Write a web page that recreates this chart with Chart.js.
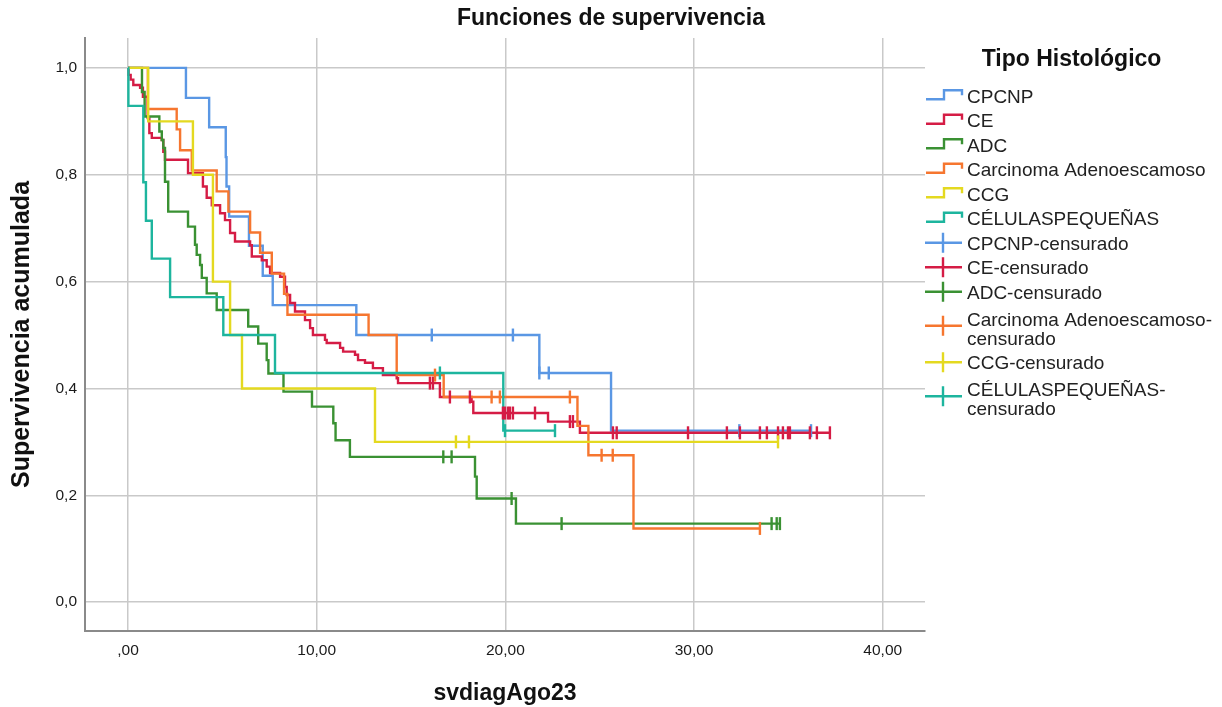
<!DOCTYPE html>
<html><head><meta charset="utf-8">
<script src="https://cdn.jsdelivr.net/npm/chart.js@4.4.0/dist/chart.umd.min.js"></script>
<style>html,body{margin:0;padding:0;background:#fff}</style>
</head><body>
<canvas id="c" width="1222" height="707"></canvas>
<script>
// ---------- DATA ----------
const groupNames = ['CPCNP', 'CE', 'ADC', 'Carcinoma Adenoescamoso', 'CCG', 'CÉLULASPEQUEÑAS'];
const censorNames = ['CPCNP-censurado', 'CE-censurado', 'ADC-censurado', ['Carcinoma Adenoescamoso-', 'censurado'], 'CCG-censurado', ['CÉLULASPEQUEÑAS-', 'censurado']];

const cpcnpTimes = [0, 3.07, 4.3, 5.18, 5.22, 5.36, 6.41, 7.14, 7.67, 12.1, 21.8, 25.6];
const cpcnpSurv  = [1, 0.944, 0.889, 0.833, 0.778, 0.722, 0.667, 0.611, 0.556, 0.5, 0.429, 0.321];
const cpcnpEnd = 36.2;
const cpcnpCensored = [16.1, 20.4, 21.8, 22.3, 32.4, 36.2];

const ceTimes = [0, 0.03, 0.14, 0.28, 0.64, 0.79, 1.04, 1.13, 1.26, 1.79, 1.87, 1.96, 3.18, 3.97, 4.17, 4.44, 4.88, 5.14, 5.41, 5.67, 6.47, 6.56, 7.09, 7.35, 7.53, 8.06, 8.32, 8.41, 8.59, 8.85, 9.38, 9.65, 9.80, 10.44, 10.53, 11.24, 11.40, 12.03, 12.19, 12.56, 12.98, 13.51, 14.24, 14.31, 16.53, 18.21, 18.30, 22.26, 23.95];
const ceSurv  = [1, 0.987, 0.978, 0.968, 0.963, 0.946, 0.906, 0.878, 0.869, 0.865, 0.843, 0.828, 0.803, 0.778, 0.757, 0.743, 0.728, 0.715, 0.691, 0.675, 0.668, 0.647, 0.640, 0.628, 0.616, 0.609, 0.590, 0.575, 0.560, 0.544, 0.528, 0.513, 0.500, 0.491, 0.485, 0.476, 0.469, 0.463, 0.453, 0.448, 0.438, 0.425, 0.419, 0.410, 0.384, 0.375, 0.354, 0.338, 0.317];
const ceEnd = 37.2;
const ceCensored = [16.0, 16.16, 17.06, 18.12, 19.87, 19.98, 20.14, 20.24, 20.40, 21.57, 23.42, 23.58, 25.7, 25.9, 29.68, 31.74, 32.43, 33.49, 33.86, 34.45, 34.71, 34.98, 35.08, 36.14, 36.51, 37.2];

const adcTimes = [0, 0.74, 0.88, 1.66, 1.79, 1.87, 1.96, 2.13, 3.18, 3.55, 3.64, 3.82, 3.91, 4.17, 4.70, 6.37, 6.90, 7.35, 7.44, 8.24, 9.75, 10.88, 11.0, 11.76, 18.39, 18.48, 20.56];
const adcSurv  = [1, 0.955, 0.909, 0.881, 0.865, 0.850, 0.787, 0.731, 0.703, 0.669, 0.650, 0.631, 0.607, 0.578, 0.547, 0.516, 0.484, 0.453, 0.428, 0.394, 0.366, 0.335, 0.303, 0.272, 0.235, 0.194, 0.147];
const adcEnd = 34.55;
const adcCensored = [16.71, 17.15, 20.33, 22.98, 34.11, 34.38, 34.55];

const adenoTimes = [0, 1.05, 2.58, 2.76, 3.38, 4.70, 5.32, 6.47, 7.0, 7.62, 8.27, 8.45, 12.75, 14.24, 16.73, 23.82, 24.40, 26.79];
const adenoSurv  = [1, 0.923, 0.885, 0.846, 0.808, 0.769, 0.731, 0.692, 0.654, 0.615, 0.577, 0.538, 0.500, 0.425, 0.384, 0.330, 0.275, 0.138];
const adenoEnd = 33.49;
const adenoCensored = [16.27, 19.27, 19.71, 23.42, 25.10, 25.69, 33.49];

const ccgTimes = [0, 1.07, 3.44, 4.50, 5.41, 6.04, 13.09];
const ccgSurv  = [1, 0.9, 0.8, 0.6, 0.5, 0.4, 0.3];
const ccgEnd = 34.45;
const ccgCensored = [17.38, 18.07, 34.45];

const pequeTimes = [0, 0.02, 0.81, 0.95, 1.26, 2.23, 5.05, 7.79, 19.89];
const pequeSurv  = [1, 0.929, 0.786, 0.714, 0.643, 0.571, 0.5, 0.429, 0.321];
const pequeEnd = 22.63;
const pequeCensored = [16.53, 19.98, 22.63];

const xTickValues = [0, 10, 20, 30, 40];
const xTickLabels = [',00', '10,00', '20,00', '30,00', '40,00'];
const yTickValues = [0, 0.2, 0.4, 0.6, 0.8, 1.0];
const yTickLabels = ['0,0', '0,2', '0,4', '0,6', '0,8', '1,0'];

// ---------- STYLE ----------
const colors = ['#5A97E4', '#D51C45', '#3A9133', '#F6762F', '#E4D920', '#1DB59E'];
const FONT = "'Liberation Sans', Arial, sans-serif";
const LW = 2.4;

const groups = [
  [cpcnpTimes, cpcnpSurv, cpcnpEnd, cpcnpCensored],
  [ceTimes, ceSurv, ceEnd, ceCensored],
  [adcTimes, adcSurv, adcEnd, adcCensored],
  [adenoTimes, adenoSurv, adenoEnd, adenoCensored],
  [ccgTimes, ccgSurv, ccgEnd, ccgCensored],
  [pequeTimes, pequeSurv, pequeEnd, pequeCensored]
];

function stepPoints(times, surv, end) {
  const pts = times.map((t, i) => ({x: t, y: surv[i]}));
  pts.push({x: end, y: surv[surv.length - 1]});
  return pts;
}
function survAt(times, surv, t) {
  let s = surv[0];
  for (let i = 0; i < times.length; i++) if (times[i] <= t + 1e-9) s = surv[i];
  return s;
}

const datasets = [];
groups.forEach((g, i) => {
  datasets.push({
    label: groupNames[i],
    data: stepPoints(g[0], g[1], g[2]),
    showLine: true, stepped: true,
    borderColor: colors[i], borderWidth: LW, pointRadius: 0, fill: false,
    order: -i
  });
});
groups.forEach((g, i) => {
  datasets.push({
    label: Array.isArray(censorNames[i]) ? censorNames[i].join('') : censorNames[i],
    data: g[3].map(t => ({x: t, y: survAt(g[0], g[1], t)})),
    showLine: false,
    pointStyle: 'line', pointRotation: 90, pointRadius: 6.5,
    pointBorderWidth: LW, pointBorderColor: colors[i], pointBackgroundColor: colors[i],
    order: -6 - i
  });
});

const legendPlugin = {
  id: 'kmLegend',
  afterDraw(chart) {
    const ctx = chart.ctx;
    ctx.save();
    ctx.fillStyle = '#111';
    ctx.font = 'bold 23px ' + FONT;
    ctx.textAlign = 'center';
    ctx.textBaseline = 'middle';
    ctx.fillText('Tipo Histológico', 1071.5, 60);
    ctx.font = '19px ' + FONT;
    ctx.textAlign = 'left';
    const entries = [];
    groupNames.forEach((n, i) => entries.push({lines: [n], color: colors[i], kind: 'step'}));
    censorNames.forEach((n, i) => entries.push({lines: Array.isArray(n) ? n : [n], color: colors[i], kind: 'cross'}));
    let y = 97.3;
    let prevLines = 1;
    entries.forEach((e, k) => {
      if (k > 0) y += (prevLines - 1) * 19 + 24.5 + (e.lines.length > 1 ? 2.5 : 0);
      ctx.strokeStyle = e.color;
      ctx.lineWidth = LW;
      ctx.beginPath();
      if (e.kind === 'step') {
        ctx.moveTo(926, y + 2); ctx.lineTo(944, y + 2); ctx.lineTo(944, y - 7);
        ctx.lineTo(962, y - 7); ctx.lineTo(962, y - 2);
      } else {
        const cy = e.lines.length > 1 ? y + 5.5 : y - 1.5;
        ctx.moveTo(925, cy); ctx.lineTo(962, cy);
        ctx.moveTo(943, cy - 10); ctx.lineTo(943, cy + 10);
      }
      ctx.stroke();
      ctx.fillStyle = '#222';
      e.lines.forEach((ln, j) => ctx.fillText(ln, 967, y + j * 19));
      prevLines = e.lines.length;
    });
    ctx.restore();
  }
};

new Chart(document.getElementById('c'), {
  type: 'scatter',
  data: {datasets},
  plugins: [legendPlugin],
  options: {
    responsive: false,
    devicePixelRatio: 1,
    animation: false,
    events: [],
    layout: {padding: 0},
    plugins: {
      legend: {display: false},
      tooltip: {enabled: false},
      title: {
        display: true, text: 'Funciones de supervivencia', color: '#111',
        font: {family: FONT, size: 23, weight: 'bold'},
        padding: {top: 5, bottom: 5.4}
      }
    },
    scales: {
      x: {
        type: 'linear', position: 'bottom', min: -2.28, max: 42.24,
        afterBuildTicks: s => { s.ticks = xTickValues.map(v => ({value: v})); },
        afterFit: s => { s.height = 76; },
        ticks: {
          callback: (v, i) => xTickLabels[i], color: '#1a1a1a', padding: 10,
          font: {family: FONT, size: 15.5}, maxRotation: 0, autoSkip: false
        },
        grid: {color: '#c9c9c9', lineWidth: 1.5, drawTicks: false},
        border: {color: '#8a8a8a', width: 2},
        title: {
          display: true, text: 'svdiagAgo23', color: '#111',
          font: {family: FONT, size: 23, weight: 'bold'}, padding: {top: 0, bottom: 0}
        }
      },
      y: {
        type: 'linear', position: 'left', min: -0.054, max: 1.056,
        afterBuildTicks: s => { s.ticks = yTickValues.map(v => ({value: v})); },
        afterFit: s => { s.width = 85; },
        ticks: {
          callback: (v, i) => yTickLabels[i], color: '#1a1a1a', padding: 8,
          font: {family: FONT, size: 15.5}
        },
        grid: {color: '#c9c9c9', lineWidth: 1.5, drawTicks: false},
        border: {color: '#8a8a8a', width: 2},
        title: {
          display: true, text: 'Supervivencia acumulada', color: '#111',
          font: {family: FONT, size: 25, weight: 'bold'}, padding: {top: 7, bottom: 0}
        }
      },
      legendSpace: {
        type: 'linear', position: 'right', display: true,
        afterFit: s => { s.width = 297; },
        grid: {display: false, drawTicks: false},
        border: {display: false},
        ticks: {display: false}
      }
    }
  }
});
</script>
</body></html>
